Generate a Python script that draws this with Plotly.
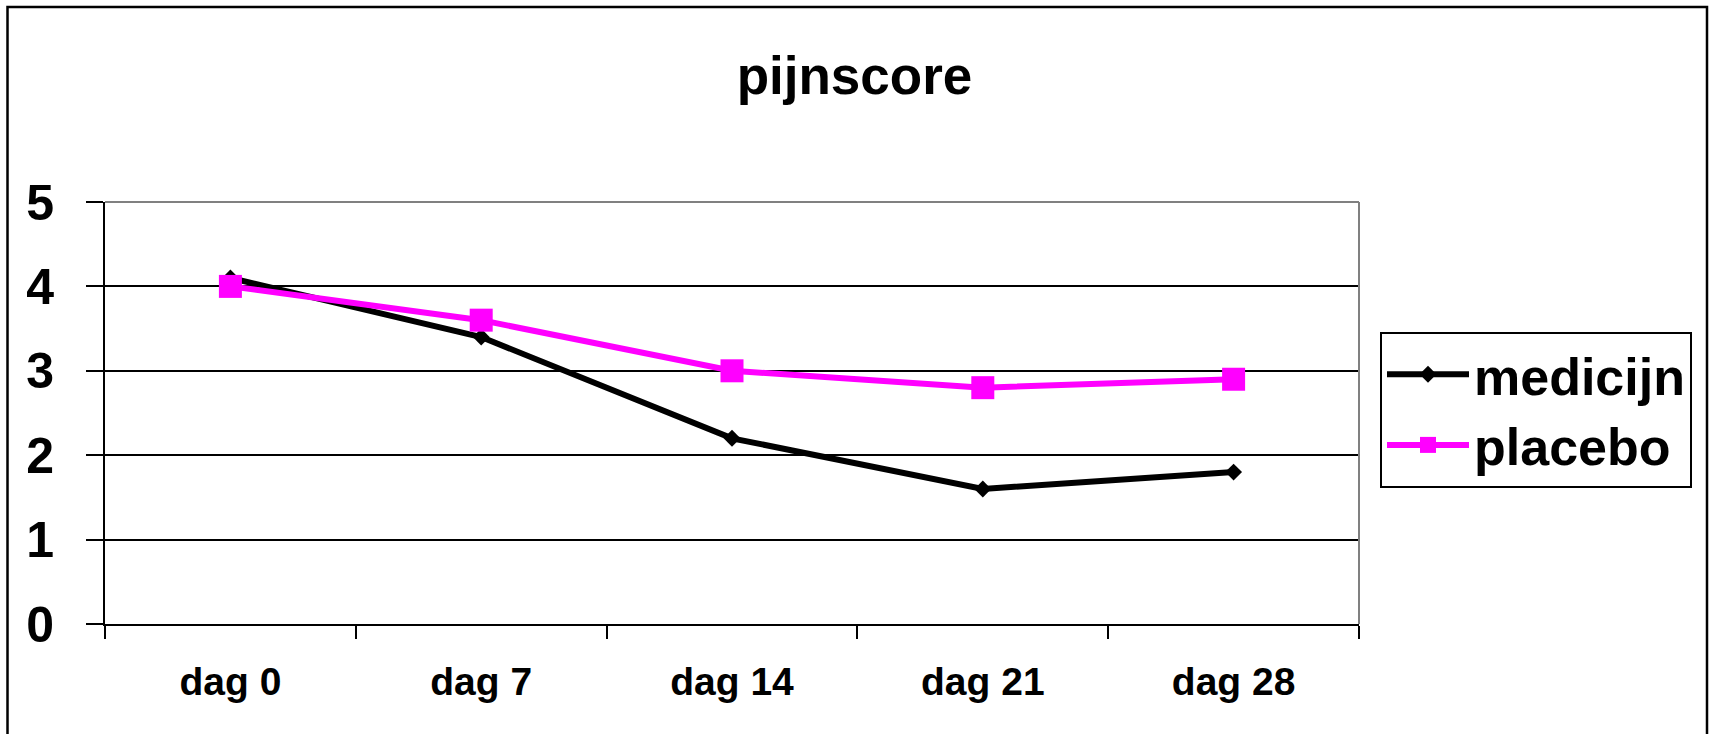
import plotly.graph_objects as go

categories = ["dag 0", "dag 7", "dag 14", "dag 21", "dag 28"]
medicijn = [4.1, 3.4, 2.2, 1.6, 1.8]
placebo = [4.0, 3.6, 3.0, 2.8, 2.9]
y_ticks = [0, 1, 2, 3, 4, 5]

FONT = "Liberation Sans, Arial, sans-serif"

fig = go.Figure()
fig.add_trace(go.Scatter(
    x=categories, y=medicijn, name="<b>medicijn</b>", mode="lines+markers",
    line=dict(color="black", width=6),
    marker=dict(symbol="diamond", size=13, color="black"),
))
fig.add_trace(go.Scatter(
    x=categories, y=placebo, name="<b>placebo</b>", mode="lines+markers",
    line=dict(color="#FF00FF", width=6),
    marker=dict(symbol="square", size=23, color="#FF00FF"),
))

W, H = 1709, 734
L, R, T, B = 105, 350, 202, 110
pw, ph = W - L - R, H - T - B

def px(x):
    return (x - L) / pw

def py(y):
    return (H - B - y) / ph

fig.update_layout(
    width=W, height=H,
    margin=dict(l=L, r=R, t=T, b=B, autoexpand=False),
    paper_bgcolor="white", plot_bgcolor="white",
    font=dict(family=FONT, color="black"),
    title=dict(text="<b>pijnscore</b>", x=0.5, xref="container", xanchor="center",
               y=1 - 75 / H, yref="container", yanchor="middle",
               font=dict(size=53, family=FONT, color="black")),
    showlegend=True,
    legend=dict(x=px(1380), xanchor="left", y=py(410), yanchor="middle",
                bordercolor="black", borderwidth=2, bgcolor="white",
                font=dict(size=52, family=FONT, color="black"),
                tracegroupgap=0, itemsizing="trace", itemwidth=82),
    xaxis=dict(type="category", categoryorder="array", categoryarray=categories,
               tickson="boundaries", ticks="outside", ticklen=13, tickwidth=2, tickcolor="black",
               showline=True, linecolor="black", linewidth=2, showgrid=False,
               tickfont=dict(size=39, family=FONT, color="black"),
               ticklabelstandoff=22, zeroline=False,
               tickvals=categories, ticktext=[f"<b>{c}</b>" for c in categories],
               range=[-0.5, len(categories) - 0.5]),
    yaxis=dict(range=[0, 5], tickvals=y_ticks, ticktext=[f"<b>{v}</b>" for v in y_ticks],
               ticks="outside", ticklen=17, tickwidth=2, tickcolor="black",
               showline=True, linecolor="black", linewidth=2,
               showgrid=True, gridcolor="black", gridwidth=2, zeroline=False,
               tickfont=dict(size=50, family=FONT, color="black"),
               ticklabelstandoff=22),
    shapes=[
        dict(type="line", xref="paper", yref="paper", x0=0, x1=1, y0=1, y1=1,
             line=dict(color="#808080", width=2), layer="above"),
        dict(type="line", xref="paper", yref="paper", x0=1, x1=1, y0=0, y1=1,
             line=dict(color="#808080", width=2), layer="above"),
        dict(type="rect", xref="paper", yref="paper",
             x0=px(7.5), x1=px(1707), y0=py(745), y1=py(7),
             line=dict(color="black", width=2.5), fillcolor="rgba(0,0,0,0)", layer="below"),
    ],
)

fig.write_html("out.html", config={"displayModeBar": False},
               post_script="document.body.style.margin='0';")
